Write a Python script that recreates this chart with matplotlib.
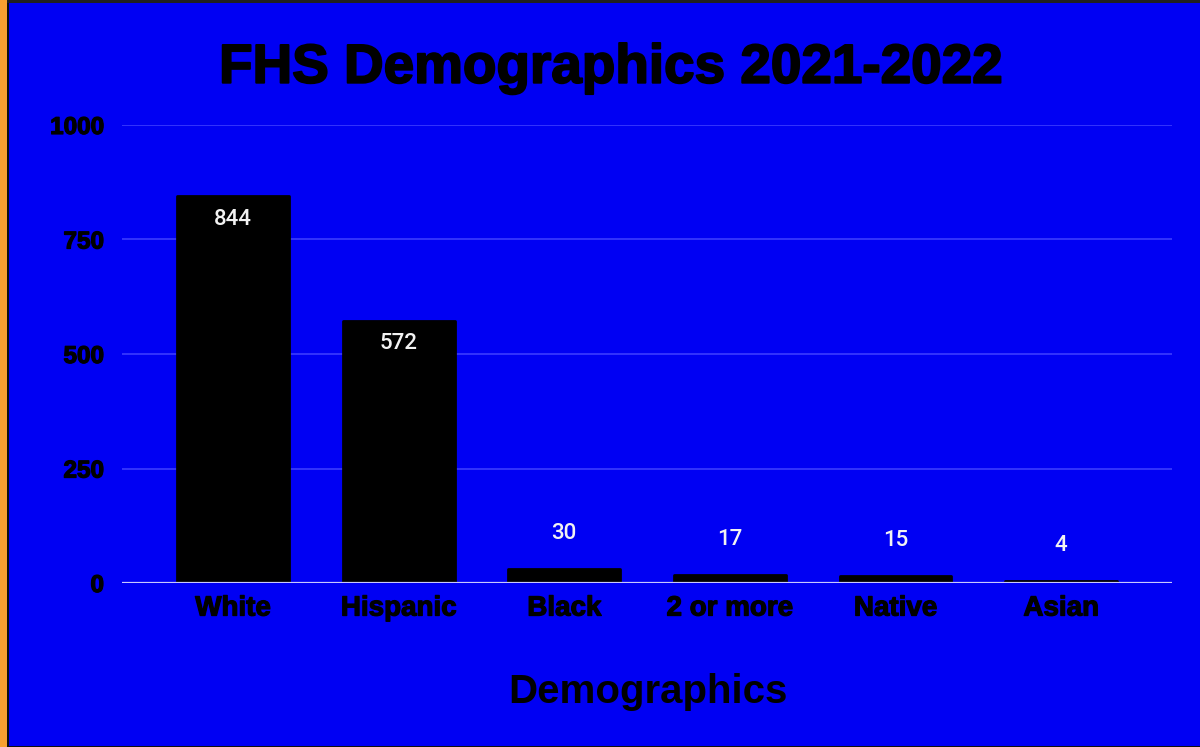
import numpy as np
import matplotlib.pyplot as plt
from matplotlib.patches import Rectangle
import matplotlib.patheffects as pe

# enrolment by group, 2021-2022
groups = ['White', 'Hispanic', 'Black', '2 or more', 'Native', 'Asian']
counts = [844, 572, 30, 17, 15, 4]
yticks = [0, 250, 500, 750, 1000]

bg = '#0000f3'

fig = plt.figure(figsize=(12, 7.47), dpi=100)
fig.patch.set_facecolor(bg)
ax = fig.add_axes([0.1017, 0.2195, 0.875, 0.6132])
ax.set_facecolor(bg)

x = np.arange(len(groups))
bars = ax.bar(x, counts, width=0.675, color='black', edgecolor='black',
              linewidth=2, joinstyle='round', zorder=3)

ax.set_xlim(-0.67, len(groups) - 0.33)
ax.set_ylim(0, 1000)
ax.set_yticks(yticks)
ax.set_yticklabels([str(t) for t in yticks])
ax.set_xticks(x)
ax.set_xticklabels(groups)

heavy = [pe.withStroke(linewidth=0.9, foreground='black')]
for s in ax.spines.values():
    s.set_visible(False)
ax.tick_params(length=0)
ax.tick_params(axis='y', pad=13)
ax.tick_params(axis='x', pad=9)
for lab in ax.get_yticklabels() + ax.get_xticklabels():
    lab.set_fontfamily('Liberation Sans')
    lab.set_fontweight('bold')
    lab.set_color('black')
    lab.set_path_effects(heavy)
for lab in ax.get_yticklabels():
    lab.set_fontsize(17.5)
for lab in ax.get_xticklabels():
    lab.set_fontsize(20)

ax.grid(axis='y', color='#3b3bff', linewidth=1.2, zorder=0)
ax.axhline(0, color='#c8c8ff', linewidth=1.6, zorder=4)

# value labels: inside the tall bars, above the short ones
for xi, v in zip(x, counts):
    if v > 100:
        off = -16.5
    else:
        off = 25.5
    ax.annotate(str(v), (xi, v), xytext=(0, off), textcoords='offset points',
                ha='center', va='center', color='#f2f2f2', fontsize=16,
                fontfamily='Roboto', fontweight='medium', zorder=5)

thick = [pe.withStroke(linewidth=1.4, foreground='black')]
fig.text(0.509, 0.908, 'FHS Demographics 2021-2022', ha='center', va='center',
         fontsize=39.5, fontweight='bold', fontfamily='Liberation Sans',
         color='black', path_effects=thick)
fig.text(0.54, 0.074, 'Demographics', ha='center', va='center',
         fontsize=29, fontweight='bold', fontfamily='Liberation Sans',
         color='black')

# orange strip and dark edge lines around the frame
fig.add_artist(Rectangle((0, 0), 7 / 1200, 1, transform=fig.transFigure,
                         facecolor='#f7a030', edgecolor='none'))
fig.add_artist(Rectangle((7 / 1200, 0), 1.5 / 1200, 1, transform=fig.transFigure,
                         facecolor='#101010', edgecolor='none'))
fig.add_artist(Rectangle((7 / 1200, 1 - 3 / 747), 1, 3 / 747, transform=fig.transFigure,
                         facecolor='#202020', edgecolor='none'))
fig.add_artist(Rectangle((7 / 1200, 0), 1, 1.5 / 747, transform=fig.transFigure,
                         facecolor='#101010', edgecolor='none'))

fig.savefig('out.png', dpi=100, facecolor=bg)
